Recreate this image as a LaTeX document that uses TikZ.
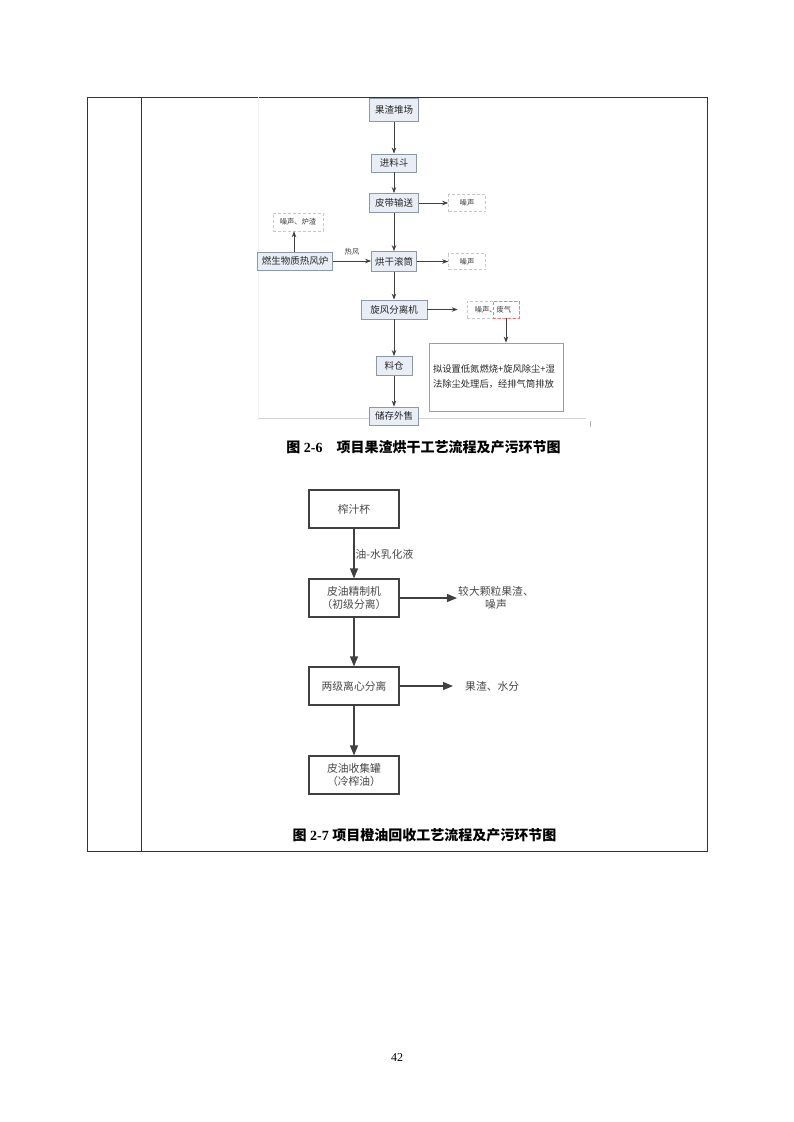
\documentclass[tikz,border=0pt]{standalone}
\usepackage{fontspec}
\setmainfont{Liberation Serif}
\newfontfamily\cjk{Noto Sans CJK SC}
\usetikzlibrary{arrows.meta}
\definecolor{boxfill}{HTML}{E8EDF6}
\definecolor{boxline}{HTML}{8A98AA}
\definecolor{arrowc}{HTML}{404040}
\definecolor{txtg}{HTML}{4A4A4A}
\tikzset{
  boxa/.style={draw=boxline, fill=boxfill, line width=0.8pt, inner sep=1pt, font=\cjk\fontsize{9.5}{11}\selectfont, text=black!85},
  dbox/.style={draw=gray!45, densely dashed, line width=0.6pt, inner sep=1pt, font=\cjk\fontsize{7.3}{9}\selectfont, text=black!75},
  arra/.style={draw=arrowc, line width=0.8pt, -{Stealth[length=6pt,width=4.5pt]}},
  boxb/.style={draw=arrowc, fill=white, line width=1.2pt, minimum width=90pt, minimum height=38pt, inner sep=1pt, align=center, font=\cjk\fontsize{10.8}{13.5}\selectfont, text=txtg},
  arrb/.style={draw=arrowc, line width=1.2pt, -{Triangle[length=10pt,width=8pt]}},
  lbl/.style={inner sep=1pt, align=center, font=\cjk\fontsize{10.8}{13.5}\selectfont, text=txtg},
  capt/.style={inner sep=0pt, font=\fontsize{14}{16}\selectfont\bfseries}
}
\begin{document}
\begin{tikzpicture}[x=1pt,y=-1pt]
\useasboundingbox[fill=white] (0,0) rectangle (793,1122);
% table
\draw[line width=1pt, black!80] (87,97) rectangle (707,851);
\draw[line width=1pt, black!80] (141,97) -- (141,851);
% faint frame of figure 2-6
\draw[gray!12, line width=0.6pt] (258,97) -- (258,418);
\draw[gray!35, line width=0.6pt] (258,418) -- (586,418);
\draw[gray!60, line width=0.6pt] (590,421) -- (590,427);

% figure 2-6
\node[boxa, minimum width=49pt, minimum height=23pt] (a1) at (394,110) {果渣堆场};
\node[boxa, minimum width=45pt, minimum height=18pt] (a2) at (394,163) {进料斗};
\node[boxa, minimum width=49pt, minimum height=19pt] (a3) at (394,203) {皮带输送};
\node[dbox, minimum width=37pt, minimum height=17pt] (n1) at (467,203) {噪声};
\node[boxa, minimum width=75pt, minimum height=18pt] (f) at (295,261) {燃生物质热风炉};
\node[dbox, minimum width=50pt, minimum height=18pt] (n2) at (298,222) {噪声、炉渣};
\node[boxa, minimum width=45pt, minimum height=20pt] (a4) at (394,261.5) {烘干滚筒};
\node[dbox, minimum width=37pt, minimum height=16pt] (n3) at (467,261.5) {噪声};
\node[boxa, minimum width=66pt, minimum height=19pt] (a5) at (394,309.5) {旋风分离机};
\node[dbox, minimum width=52pt, minimum height=17pt] (n4) at (493,309.5) {噪声、废气};
\node[draw=red!55, densely dashed, line width=0.6pt, minimum width=26pt, minimum height=17pt, inner sep=0pt] (fq) at (506,309.5) {};
\node[boxa, minimum width=36pt, minimum height=19pt] (a6) at (394,366) {料仓};
\node[boxa, minimum width=49pt, minimum height=18pt] (a7) at (394,416) {储存外售};
\node[draw=gray!75, fill=white, line width=0.8pt, minimum width=134pt, minimum height=68pt, inner sep=4pt, text width=126pt, align=left, font=\cjk\fontsize{9.3}{15}\selectfont, text=black!85] (big) at (496,377) {拟设置低氮燃烧+旋风除尘+湿\\法除尘处理后，经排气筒排放};

\draw[arra] (a1) -- (a2);
\draw[arra] (a2) -- (a3);
\draw[arra] (a3) -- (a4);
\draw[arra] (a4) -- (a5);
\draw[arra] (a5) -- (a6);
\draw[arra] (a6) -- (a7);
\draw[arra] (a3.east) -- (n1.west);
\draw[arra] (a4.east) -- (n3.west);
\draw[arra] (f.east) -- (a4.west |- f.east) node[pos=0.5, above=4pt, font=\cjk\fontsize{7.3}{9}\selectfont, text=black!75, inner sep=1pt] {热风};
\draw[arra] ([xshift=-1pt]f.north) -- ([xshift=-1pt]f.north |- n2.south);
\draw[arra, shorten >=9pt] (a5.east) -- (n4.west);
\draw[arra] (fq.south) -- (fq.south |- big.north);

\node[capt] (cap1) at (423.5,447) {{\cjk 图} 2-6\hspace{1em}{\cjk 项目果渣烘干工艺流程及产污环节图}};

% figure 2-7
\node[boxb] (c1) at (354,509) {榨汁杯};
\node[boxb] (c2) at (354,598) {皮油精制机\\（初级分离）};
\node[boxb] (c3) at (354,686) {两级离心分离};
\node[boxb] (c4) at (354,775) {皮油收集罐\\（冷榨油）};
\node[lbl, anchor=west] (t1) at (457,598) {较大颗粒果渣、\\噪声};
\node[lbl, anchor=west] (t2) at (464,686) {果渣、水分};
\draw[arrb] (c1) -- (c2) node[pos=0.52, right=0pt, lbl] {油-水乳化液};
\draw[arrb] (c2.east) -- (t1.west);
\draw[arrb] (c2) -- (c3);
\draw[arrb, shorten >=11pt] (c3.east) -- (t2.west);
\draw[arrb] (c3) -- (c4);

\node[capt] (cap2) at (424.5,835) {{\cjk 图} 2-7 {\cjk 项目橙油回收工艺流程及产污环节图}};

\node[inner sep=0pt, font=\fontsize{12}{14}\selectfont] (pg) at (397,1058) {42};
\end{tikzpicture}
\end{document}
